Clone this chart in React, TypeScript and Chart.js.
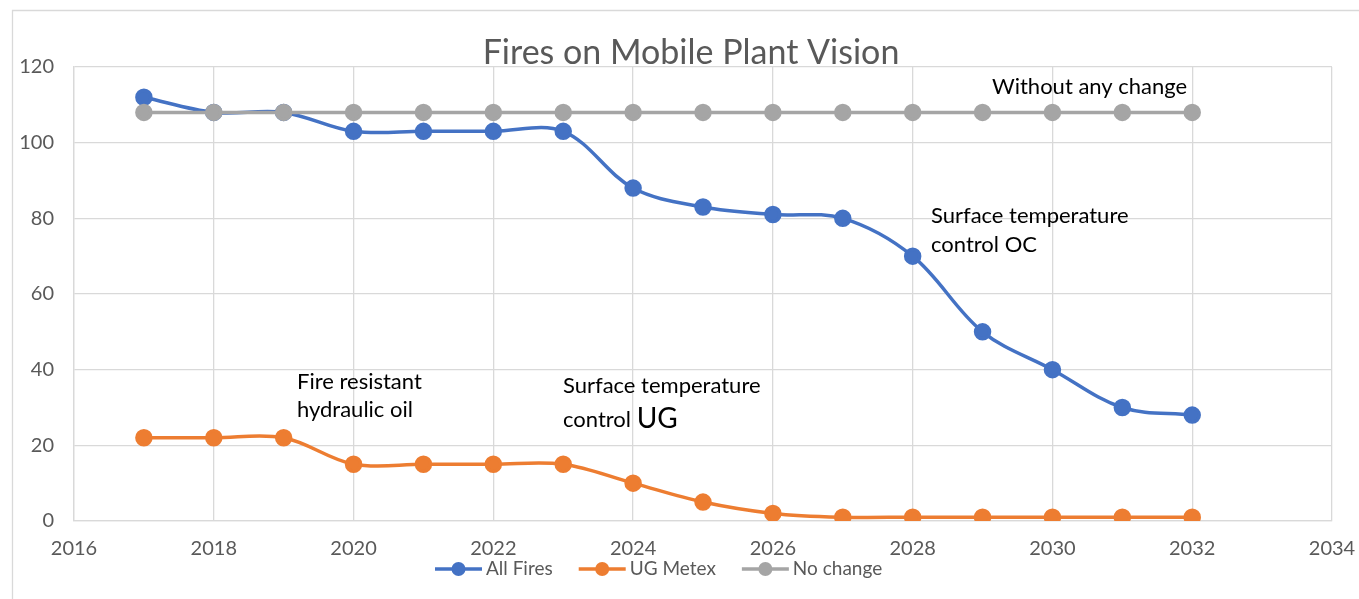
import React, { useEffect, useRef } from "react";
import { Chart, registerables } from "chart.js";

Chart.register(...registerables);

const years = [2017, 2018, 2019, 2020, 2021, 2022, 2023, 2024, 2025, 2026, 2027, 2028, 2029, 2030, 2031, 2032];
const allFires = [112, 108, 108, 103, 103, 103, 103, 88, 83, 81, 80, 70, 50, 40, 30, 28];
const ugMetex = [22, 22, 22, 15, 15, 15, 15, 10, 5, 2, 1, 1, 1, 1, 1, 1];
const noChange = [108, 108, 108, 108, 108, 108, 108, 108, 108, 108, 108, 108, 108, 108, 108, 108];
const seriesLabels = ["All Fires", "UG Metex", "No change"];
const seriesColors = ["#4472C4", "#ED7D31", "#A5A5A5"];
const seriesOrder = [1, 2, 0];
const chartTitle = "Fires on Mobile Plant Vision";

const FONT = "Lato, 'Open Sans', sans-serif";
const GREY_TEXT = "#595959";
const GRID = "#D9D9D9";

const overlayPlugin = {
  id: "overlay",
  beforeDraw(chart: any) {
    const ctx = chart.ctx;
    ctx.save();
    ctx.fillStyle = "#ffffff";
    ctx.fillRect(0, 0, chart.width, chart.height);
    ctx.strokeStyle = GRID;
    ctx.lineWidth = 1.3;
    ctx.beginPath();
    ctx.moveTo(12.5, chart.height);
    ctx.lineTo(12.5, 10.5);
    ctx.lineTo(chart.width, 10.5);
    ctx.stroke();
    ctx.restore();
  },
  afterDraw(chart: any) {
    const ctx = chart.ctx;
    ctx.save();
    // title
    ctx.fillStyle = GREY_TEXT;
    ctx.font = `34px ${FONT}`;
    ctx.textAlign = "center";
    ctx.textBaseline = "middle";
    ctx.fillText(chartTitle, 691, 53);

    // annotations
    ctx.fillStyle = "#000000";
    ctx.textAlign = "left";
    ctx.font = `22px ${FONT}`;
    ctx.fillText("Without any change", 992, 87);
    ctx.fillText("Surface temperature", 931, 216);
    ctx.fillText("control OC", 931, 245);
    ctx.fillText("Fire resistant", 297, 382);
    ctx.fillText("hydraulic oil", 297, 410);
    ctx.fillText("Surface temperature", 563, 386);
    ctx.fillText("control ", 563, 420);
    const w = ctx.measureText("control ").width;
    ctx.font = `28px ${FONT}`;
    ctx.fillText("UG", 563 + w, 419);

    // legend
    ctx.font = `19px ${FONT}`;
    let x = 435;
    const y = 569;
    chart.data.datasets.forEach((ds: any) => {
      ctx.strokeStyle = ds.borderColor;
      ctx.lineWidth = 3.5;
      ctx.beginPath();
      ctx.moveTo(x, y);
      ctx.lineTo(x + 47, y);
      ctx.stroke();
      ctx.fillStyle = ds.backgroundColor;
      ctx.beginPath();
      ctx.arc(x + 23.5, y, 7, 0, Math.PI * 2);
      ctx.fill();
      ctx.fillStyle = GREY_TEXT;
      ctx.fillText(ds.label, x + 51, y);
      x += 51 + ctx.measureText(ds.label).width + 26;
    });
    ctx.restore();
  },
};

export default function App() {
  const ref = useRef<HTMLCanvasElement | null>(null);
  useEffect(() => {
    if (!ref.current) return;
    const series = [allFires, ugMetex, noChange];
    const chart = new Chart(ref.current, {
      type: "line",
      data: {
        datasets: series.map((vals, i) => ({
          label: seriesLabels[i],
          data: years.map((yr, j) => ({ x: yr, y: vals[j] })),
          borderColor: seriesColors[i],
          backgroundColor: seriesColors[i],
          pointBackgroundColor: seriesColors[i],
          pointBorderColor: seriesColors[i],
          borderWidth: 3.5,
          pointRadius: 7,
          pointHoverRadius: 7,
          tension: 0.35,
          fill: false,
          order: seriesOrder[i],
        })),
      },
      options: {
        responsive: false,
        animation: false,
        devicePixelRatio: 1,
        events: [],
        layout: { padding: { left: 12, top: 67, right: 27, bottom: 0 } },
        plugins: {
          legend: { display: false },
          title: { display: false },
          tooltip: { enabled: false },
        },
        scales: {
          x: {
            type: "linear",
            min: 2016,
            max: 2034,
            afterFit: (s: any) => {
              s.height = 78;
              s.paddingLeft = 0;
              s.paddingRight = 0;
            },
            ticks: {
              stepSize: 2,
              padding: 16,
              color: GREY_TEXT,
              font: { family: FONT, size: 20 },
              maxRotation: 0,
              callback: (v: any) => String(v),
            },
            grid: { color: GRID, lineWidth: 1.3, drawTicks: false },
            border: { color: GRID, width: 1.3 },
          },
          y: {
            min: 0,
            max: 120,
            afterFit: (s: any) => {
              s.width = 62;
              s.paddingTop = 0;
              s.paddingBottom = 0;
            },
            ticks: {
              stepSize: 20,
              padding: 20,
              color: GREY_TEXT,
              font: { family: FONT, size: 20 },
            },
            grid: { color: GRID, lineWidth: 1.3, drawTicks: false },
            border: { color: GRID, width: 1.3 },
          },
        },
      },
      plugins: [overlayPlugin],
    });
    return () => chart.destroy();
  }, []);
  return (
    <div style={{ position: "absolute", left: 0, top: 0, width: 1359, height: 599 }}>
      <canvas ref={ref} width={1359} height={599} style={{ display: "block" }} />
    </div>
  );
}
